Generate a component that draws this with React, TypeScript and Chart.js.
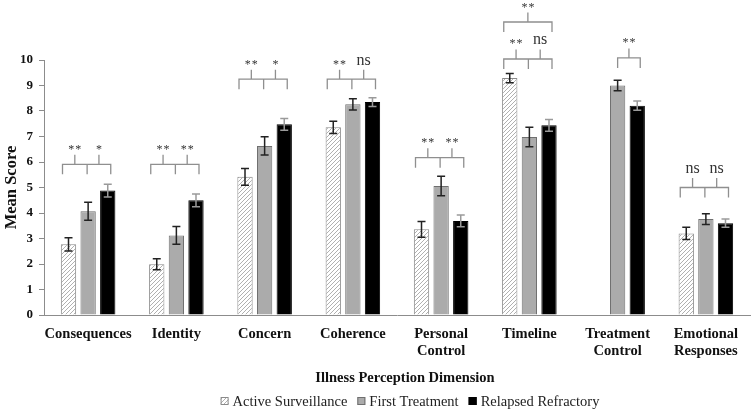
import React, { useEffect, useRef } from 'react';
import { Chart, registerables } from 'chart.js';

Chart.register(...registerables);

// ---- Data ----
const categories: string[][] = [
  ['Consequences'],
  ['Identity'],
  ['Concern'],
  ['Coherence'],
  ['Personal', 'Control'],
  ['Timeline'],
  ['Treatment', 'Control'],
  ['Emotional', 'Responses'],
];
const seriesNames = ['Active Surveillance', 'First Treatment', 'Relapsed Refractory'];

const activeSurveillance = [2.77, 1.99, 5.42, 7.36, 3.36, 9.29, null, 3.2];
const activeSurveillanceErr = [0.26, 0.22, 0.33, 0.24, 0.31, 0.18, null, 0.24];
const firstTreatment = [4.07, 3.12, 6.63, 8.26, 5.06, 6.98, 9.0, 3.76];
const firstTreatmentErr = [0.35, 0.35, 0.36, 0.22, 0.38, 0.38, 0.21, 0.21];
const relapsedRefractory = [4.88, 4.5, 7.48, 8.35, 3.69, 7.44, 8.21, 3.6];
const relapsedRefractoryErr = [0.25, 0.25, 0.23, 0.17, 0.23, 0.23, 0.18, 0.16];

const yTicks = [0, 1, 2, 3, 4, 5, 6, 7, 8, 9, 10];

// significance annotations (value units for bracket level)
const sigLevel = [5.91, 5.91, 9.25, 9.25, 6.17, 10.04, 10.08, 5.0];
const sigAsVsFt = ['**', '**', '**', '**', '**', '**', null, 'ns'];
const sigFtVsRr = ['*', '**', '*', 'ns', '**', 'ns', '**', 'ns'];
const sigOuterLevel = [null, null, null, null, null, 11.49, null, null];
const sigAsVsRr = [null, null, null, null, null, '**', null, null];

const errs = [activeSurveillanceErr, firstTreatmentErr, relapsedRefractoryErr];

const SERIF = '"Liberation Serif", "Times New Roman", serif';

function makeHatch(ctx: CanvasRenderingContext2D) {
  const c = document.createElement('canvas');
  c.width = 4;
  c.height = 4;
  const g = c.getContext('2d')!;
  g.fillStyle = '#ffffff';
  g.fillRect(0, 0, 4, 4);
  g.strokeStyle = '#b0b0b0';
  g.lineWidth = 1;
  g.beginPath();
  g.moveTo(0, 4); g.lineTo(4, 0);
  g.moveTo(-1, 1); g.lineTo(1, -1);
  g.moveTo(3, 5); g.lineTo(5, 3);
  g.stroke();
  return ctx.createPattern(c, 'repeat')!;
}

export default function App() {
  const ref = useRef<HTMLCanvasElement>(null);

  useEffect(() => {
    const canvas = ref.current!;
    const ctx0 = canvas.getContext('2d')!;
    const hatch = makeHatch(ctx0);
    const fills: any[] = [hatch, '#ababab', '#000000'];
    const borders = ['#8a8a8a', '#6f6f6f', '#000000'];

    const errorBars = {
      id: 'errorBars',
      afterDatasetsDraw(chart: any) {
        const ctx = chart.ctx;
        const y = chart.scales.y;
        ctx.save();
        chart.data.datasets.forEach((ds: any, i: number) => {
          const meta = chart.getDatasetMeta(i);
          ctx.strokeStyle = i === 2 ? '#9a9a9a' : '#222222';
          ctx.lineWidth = 1.5;
          meta.data.forEach((bar: any, j: number) => {
            const v = ds.data[j];
            const e = errs[i][j];
            if (v == null || e == null) return;
            const top = y.getPixelForValue(v + e);
            const bot = y.getPixelForValue(v - e);
            const x = bar.x;
            ctx.beginPath();
            ctx.moveTo(x, top); ctx.lineTo(x, bot);
            ctx.moveTo(x - 4, top); ctx.lineTo(x + 4, top);
            ctx.moveTo(x - 4, bot); ctx.lineTo(x + 4, bot);
            ctx.stroke();
          });
        });
        ctx.restore();
      },
    };

    const drawLabel = (ctx: CanvasRenderingContext2D, text: string, x: number, topY: number) => {
      ctx.fillStyle = '#333333';
      ctx.textAlign = 'center';
      ctx.textBaseline = 'alphabetic';
      if (text === 'ns') {
        ctx.font = `16px ${SERIF}`;
        ctx.fillText(text, x, topY - 5);
      } else {
        ctx.font = `12px ${SERIF}`;
        const chars = text.split('');
        const sp = 7;
        const start = x - ((chars.length - 1) * sp) / 2;
        chars.forEach((ch, k) => ctx.fillText(ch, start + k * sp, topY - 2));
      }
    };

    const brackets = {
      id: 'brackets',
      afterDraw(chart: any) {
        const ctx = chart.ctx;
        const y = chart.scales.y;
        const m0 = chart.getDatasetMeta(0).data;
        const m1 = chart.getDatasetMeta(1).data;
        const m2 = chart.getDatasetMeta(2).data;
        const down = 10;
        const up = 9.5;
        ctx.save();
        ctx.strokeStyle = '#8f8f8f';
        ctx.lineWidth = 1.3;
        for (let j = 0; j < categories.length; j++) {
          const ly = y.getPixelForValue(sigLevel[j]);
          const xl = m0[j].x - 6;
          const xm = m1[j].x - 1;
          const xr = m2[j].x + 3;
          if (sigAsVsFt[j]) {
            const u1 = (xl + xm) / 2;
            const u2 = (xm + xr) / 2;
            ctx.beginPath();
            ctx.moveTo(xl, ly + down); ctx.lineTo(xl, ly); ctx.lineTo(xr, ly); ctx.lineTo(xr, ly + down);
            ctx.moveTo(xm, ly); ctx.lineTo(xm, ly + down);
            ctx.moveTo(u1, ly); ctx.lineTo(u1, ly - up);
            ctx.moveTo(u2, ly); ctx.lineTo(u2, ly - up);
            ctx.stroke();
            drawLabel(ctx, sigAsVsFt[j] as string, u1, ly - up);
            drawLabel(ctx, sigFtVsRr[j] as string, u2, ly - up);
            ctx.strokeStyle = '#8f8f8f';
            if (sigAsVsRr[j] && sigOuterLevel[j] != null) {
              const oy = y.getPixelForValue(sigOuterLevel[j] as number);
              const uo = (xl + xr) / 2;
              ctx.beginPath();
              ctx.moveTo(xl, oy + down); ctx.lineTo(xl, oy); ctx.lineTo(xr, oy); ctx.lineTo(xr, oy + down);
              ctx.moveTo(uo, oy); ctx.lineTo(uo, oy - up);
              ctx.stroke();
              drawLabel(ctx, sigAsVsRr[j] as string, uo, oy - up);
              ctx.strokeStyle = '#8f8f8f';
            }
          } else if (sigFtVsRr[j]) {
            const a = m1[j].x;
            const b = m2[j].x + 3;
            const u = (a + b) / 2;
            ctx.beginPath();
            ctx.moveTo(a, ly + down); ctx.lineTo(a, ly); ctx.lineTo(b, ly); ctx.lineTo(b, ly + down);
            ctx.moveTo(u, ly); ctx.lineTo(u, ly - up);
            ctx.stroke();
            drawLabel(ctx, sigFtVsRr[j] as string, u, ly - up);
            ctx.strokeStyle = '#8f8f8f';
          }
        }
        ctx.restore();
      },
    };

    const extras = {
      id: 'extras',
      afterDraw(chart: any) {
        const ctx = chart.ctx;
        const ca = chart.chartArea;
        const cx = (ca.left + ca.right) / 2;
        ctx.save();
        // x-axis title
        ctx.fillStyle = '#111111';
        ctx.font = `bold 14.5px ${SERIF}`;
        ctx.textAlign = 'center';
        ctx.textBaseline = 'middle';
        ctx.fillText('Illness Perception Dimension', cx + 8, 378);
        // legend
        ctx.font = `14.5px ${SERIF}`;
        const box = 8;
        const gapBox = 4;
        const gapItem = 10;
        const widths = seriesNames.map((n) => ctx.measureText(n).width);
        const total = widths.reduce((s, w) => s + w + box + gapBox, 0) + gapItem * (seriesNames.length - 1);
        let x = cx + 13 - total / 2;
        const ly = 402;
        seriesNames.forEach((n, i) => {
          ctx.fillStyle = fills[i];
          ctx.fillRect(x, ly - box / 2 - 1, box, box);
          ctx.strokeStyle = borders[i];
          ctx.lineWidth = 1;
          ctx.strokeRect(x + 0.5, ly - box / 2 - 0.5, box - 1, box - 1);
          x += box + gapBox;
          ctx.fillStyle = '#222222';
          ctx.textAlign = 'left';
          ctx.textBaseline = 'middle';
          ctx.fillText(n, x, ly);
          x += widths[i] + gapItem;
        });
        ctx.restore();
      },
    };

    const chart = new Chart(canvas, {
      type: 'bar',
      data: {
        labels: categories,
        datasets: [
          { label: seriesNames[0], data: activeSurveillance, backgroundColor: fills[0], borderColor: borders[0], borderWidth: 1 },
          { label: seriesNames[1], data: firstTreatment, backgroundColor: fills[1], borderColor: borders[1], borderWidth: 1 },
          { label: seriesNames[2], data: relapsedRefractory, backgroundColor: fills[2], borderColor: borders[2], borderWidth: 1 },
        ] as any,
      },
      options: {
        responsive: false,
        animation: false,
        devicePixelRatio: 1,
        layout: { padding: { top: 60, right: 2, bottom: 0, left: 0 } },
        datasets: { bar: { categoryPercentage: 0.667, barPercentage: 0.78 } },
        plugins: { legend: { display: false }, tooltip: { enabled: false }, title: { display: false } },
        scales: {
          x: {
            grid: { display: false, drawTicks: false },
            border: { display: true, color: '#8c8c8c', width: 1 },
            ticks: {
              autoSkip: false,
              maxRotation: 0,
              minRotation: 0,
              padding: 10,
              color: '#111111',
              font: { family: SERIF, size: 14.5, weight: 'bold', lineHeight: 1.22 },
            },
            afterFit(scale: any) { scale.height = 97; },
          },
          y: {
            min: 0,
            max: 10,
            afterBuildTicks(scale: any) { scale.ticks = yTicks.map((v) => ({ value: v })); },
            grid: { display: true, drawOnChartArea: false, drawTicks: true, tickLength: 5, color: '#8c8c8c' },
            border: { display: true, color: '#8c8c8c', width: 1 },
            ticks: {
              padding: 6,
              color: '#111111',
              font: { family: SERIF, size: 13, weight: 'bold' },
            },
            title: {
              display: true,
              text: 'Mean Score',
              color: '#111111',
              font: { family: SERIF, size: 16.5, weight: 'bold' },
              padding: { top: 2, bottom: 0 },
            },
            afterFit(scale: any) { scale.width = 44; },
          },
        },
      } as any,
      plugins: [errorBars, brackets, extras],
    });
    return () => chart.destroy();
  }, []);

  return (
    <div style={{ position: 'fixed', left: 0, top: 0, width: 752, height: 412, background: '#ffffff' }}>
      <canvas ref={ref} width={752} height={412} style={{ display: 'block', width: 752, height: 412 }} />
    </div>
  );
}
